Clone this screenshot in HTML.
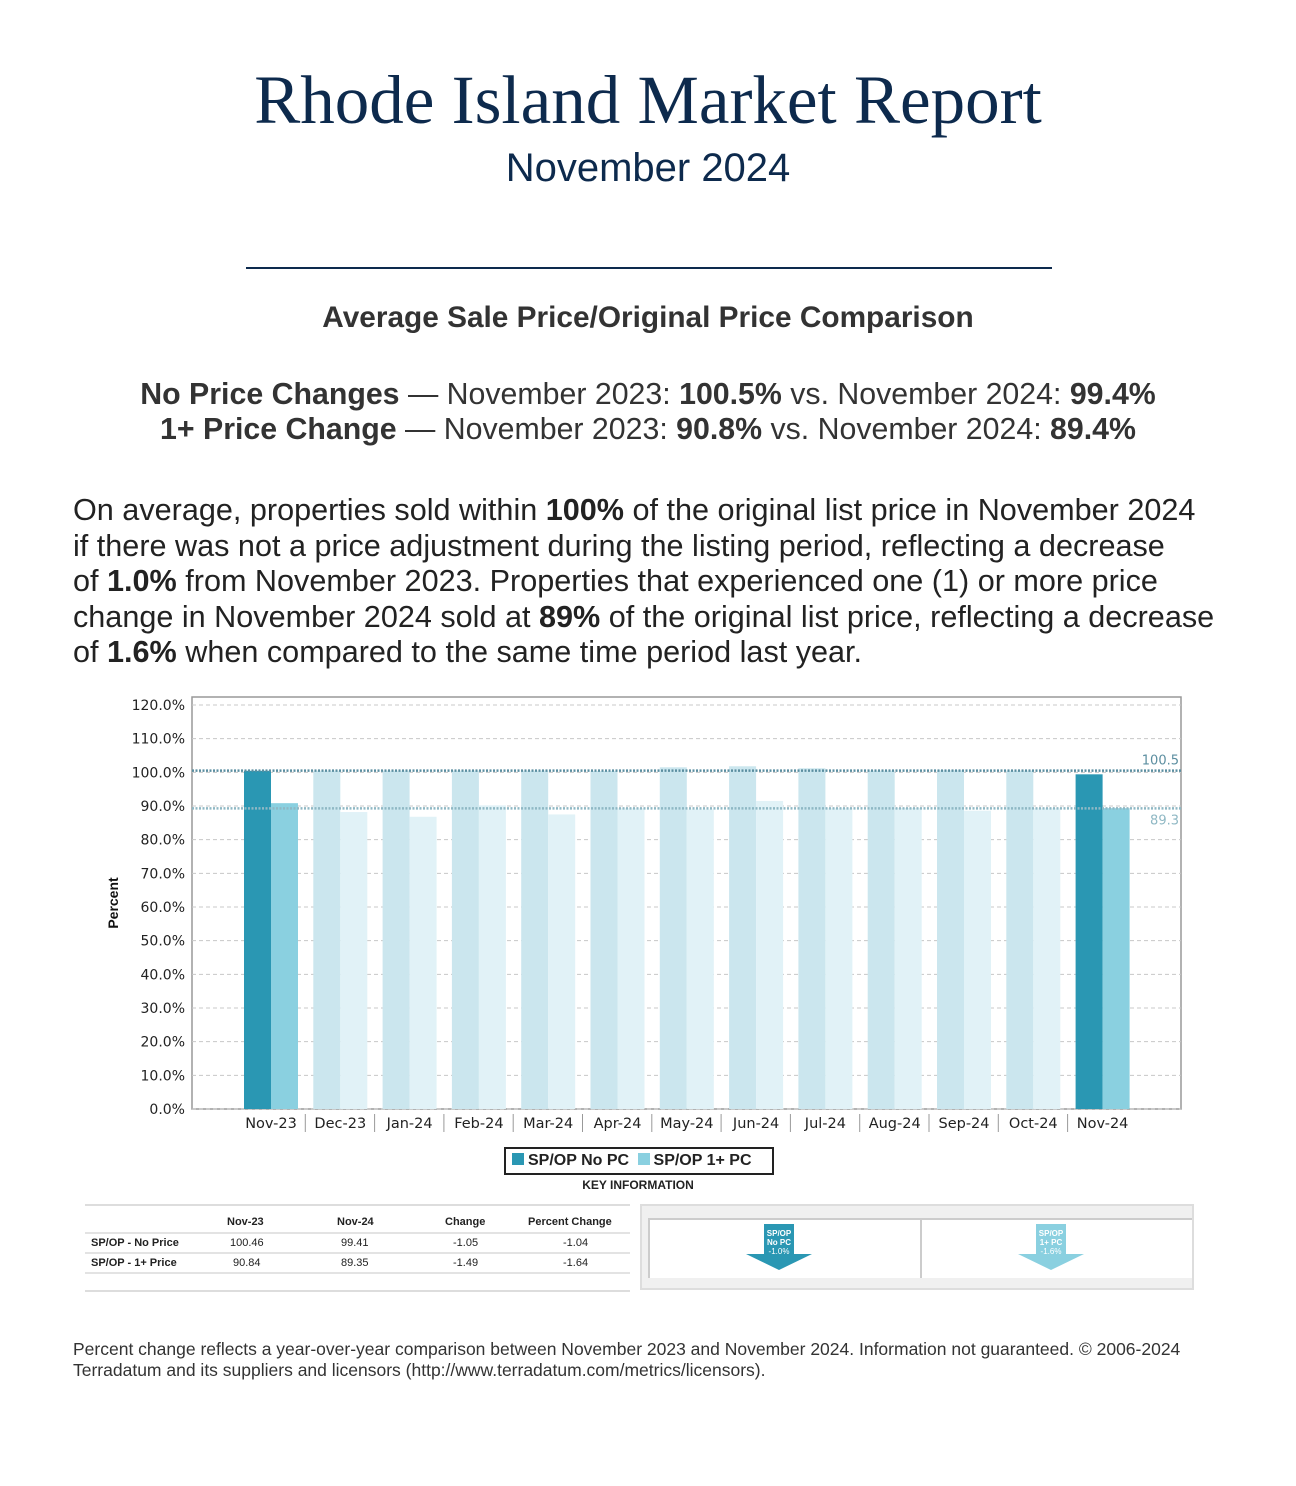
<!DOCTYPE html>
<html><head><meta charset="utf-8">
<style>
body{margin:0;background:#fff;width:1296px;height:1486px;position:relative;overflow:hidden;font-family:"Liberation Sans",sans-serif;color:#222}
.abs{position:absolute}
.c{left:0;width:1296px;text-align:center;white-space:nowrap}
</style></head><body>
<div class="abs c" style="top:61px;font-family:'Liberation Serif',serif;font-size:69px;color:#0d2a4d;">Rhode Island Market Report</div>
<div class="abs c" style="top:146px;font-size:40px;color:#0d2a4d;">November 2024</div>
<div class="abs" style="left:246px;top:267px;width:806px;height:2px;background:#0d2a4d"></div>
<div class="abs c" style="top:301px;font-size:29.8px;font-weight:bold;color:#333">Average Sale Price/Original Price Comparison</div>
<div class="abs c" style="top:378px;font-size:30.3px;color:#333"><b>No Price Changes</b> — November 2023: <b>100.5%</b> vs. November 2024: <b>99.4%</b></div>
<div class="abs c" style="top:413px;font-size:30.3px;color:#333"><b>1+ Price Change</b> — November 2023: <b>90.8%</b> vs. November 2024: <b>89.4%</b></div>
<div class="abs" style="left:73px;top:493px;font-size:30.6px;line-height:35.6px;white-space:nowrap;color:#222">On average, properties sold within <b>100%</b> of the original list price in November 2024<br>if there was not a price adjustment during the listing period, reflecting a decrease<br>of <b>1.0%</b> from November 2023. Properties that experienced one (1) or more price<br>change in November 2024 sold at <b>89%</b> of the original list price, reflecting a decrease<br>of <b>1.6%</b> when compared to the same time period last year.</div>

<svg class="abs" style="left:0;top:0" width="1296" height="1486" id="chart">
</svg>

<div class="abs" style="left:504px;top:1147px;width:270px;height:28px;border:2px solid #222;box-sizing:border-box;font-size:16px;font-weight:bold;white-space:nowrap;line-height:24px">
 <span style="display:inline-block;width:12px;height:12px;background:#2a97b3;margin:0 4px 0 6px"></span>SP/OP No PC
 <span style="display:inline-block;width:12px;height:12px;background:#8ad0e0;margin:0 4px 0 4px"></span>SP/OP 1+ PC
</div>
<div class="abs" style="left:540px;top:1178px;width:196px;text-align:center;font-size:12px;font-weight:bold">KEY INFORMATION</div>

<div class="abs" style="left:85px;top:1204px;width:545px;height:84px;border-top:2px solid #ddd;border-bottom:2px solid #ddd;font-size:11px">
 <div class="abs" style="top:10px;left:0;width:545px;font-weight:bold">
  <span class="abs" style="left:142px">Nov-23</span><span class="abs" style="left:252px">Nov-24</span><span class="abs" style="left:360px">Change</span><span class="abs" style="left:443px">Percent Change</span>
 </div>
 <div class="abs" style="top:26px;left:0;width:545px;border-top:2px solid #e3e3e3;height:18px">
  <span class="abs" style="left:6px;top:3px;font-weight:bold">SP/OP - No Price</span><span class="abs" style="left:145px;top:3px">100.46</span><span class="abs" style="left:256px;top:3px">99.41</span><span class="abs" style="left:368px;top:3px">-1.05</span><span class="abs" style="left:478px;top:3px">-1.04</span>
 </div>
 <div class="abs" style="top:46px;left:0;width:545px;border-top:2px solid #e3e3e3;border-bottom:2px solid #e3e3e3;height:18px">
  <span class="abs" style="left:6px;top:3px;font-weight:bold">SP/OP - 1+ Price</span><span class="abs" style="left:148px;top:3px">90.84</span><span class="abs" style="left:256px;top:3px">89.35</span><span class="abs" style="left:368px;top:3px">-1.49</span><span class="abs" style="left:478px;top:3px">-1.64</span>
 </div>
</div>

<div class="abs" style="left:640px;top:1204px;width:554px;height:86px;background:#f0f0f0;border:2px solid #ddd;box-sizing:border-box">
 <div class="abs" style="left:6px;top:12px;width:270px;height:58px;background:#fff;border-top:2px solid #ccc;border-left:2px solid #ccc"></div>
 <div class="abs" style="left:278px;top:12px;width:270px;height:58px;background:#fff;border-top:2px solid #ccc;border-left:2px solid #ccc"></div>
 <svg class="abs" style="left:104px;top:18px" width="72" height="46"><polygon points="18,0 48,0 48,30 66,30 33,46 0,30 18,30" fill="#2a97b3"/><text x="33" y="12" font-size="8" fill="#fff" text-anchor="middle" font-weight="bold">SP/OP</text><text x="33" y="21" font-size="8" fill="#fff" text-anchor="middle" font-weight="bold">No PC</text><text x="33" y="30" font-size="8" fill="#fff" text-anchor="middle">-1.0%</text></svg>
 <svg class="abs" style="left:376px;top:18px" width="72" height="46"><polygon points="18,0 48,0 48,30 66,30 33,46 0,30 18,30" fill="#8ad0e0"/><text x="33" y="12" font-size="8" fill="#fff" text-anchor="middle" font-weight="bold">SP/OP</text><text x="33" y="21" font-size="8" fill="#fff" text-anchor="middle" font-weight="bold">1+ PC</text><text x="33" y="30" font-size="8" fill="#fff" text-anchor="middle">-1.6%</text></svg>
</div>

<div class="abs" style="left:73px;top:1339px;font-size:17.5px;line-height:21px;color:#333;white-space:nowrap">Percent change reflects a year-over-year comparison between November 2023 and November 2024. Information not guaranteed. © 2006-2024<br>Terradatum and its suppliers and licensors (http://www.terradatum.com/metrics/licensors).</div>

<script>
const categories=["Nov-23","Dec-23","Jan-24","Feb-24","Mar-24","Apr-24","May-24","Jun-24","Jul-24","Aug-24","Sep-24","Oct-24","Nov-24"];
const noPC=[100.46,100.5,100.5,100.5,100.5,100.4,101.5,101.8,101.2,100.5,100.6,100.5,99.41];
const onePC=[90.84,88.2,86.8,90.2,87.5,89.3,89.0,91.5,89.3,89.4,88.6,89.3,89.35];
const yTicks=[0,10,20,30,40,50,60,70,80,90,100,110,120];
const avgNo=100.5, avgOne=89.3;

const NS="http://www.w3.org/2000/svg";
const svg=document.getElementById('chart');
const X0=192,X1=1181,Y0=1109,YT=697;
const y=v=>Y0-v*(404/120);
const cx=i=>271+i*69.3;
function el(t,a,parent){const e=document.createElementNS(NS,t);for(const k in a)e.setAttribute(k,a[k]);(parent||svg).appendChild(e);return e;}

const frame=el('rect',{x:X0,y:YT,width:X1-X0,height:Y0-YT,fill:'#fff',stroke:'#999','stroke-width':1.5});


yTicks.forEach(t=>{
  const g=el('line',{x1:X0,x2:X1,y1:y(t),y2:y(t),stroke:'#c8c8c8','stroke-dasharray':'4,3'});
  
  
  const tx=el('text',{x:185,y:y(t)+5,'text-anchor':'end','font-size':14,fill:'#222','font-family':'DejaVu Sans, sans-serif'});
  tx.textContent=t.toFixed(1)+'%';
  
  
});
categories.forEach((c,i)=>{
  const hi=(i===0||i===categories.length-1);
  const b1=el('rect',{x:cx(i)-27,y:y(noPC[i]),width:27,height:Y0-y(noPC[i]),fill:hi?'#2a97b3':'#cbe6ee'});
  
  
  const b2=el('rect',{x:cx(i),y:y(onePC[i]),width:27,height:Y0-y(onePC[i]),fill:hi?'#8ad0e0':'#e1f2f7'});
  
  
  const tx=el('text',{x:cx(i),y:1128,'text-anchor':'middle','font-size':14.5,fill:'#222','font-family':'DejaVu Sans, sans-serif'});
  tx.textContent=c;
  
  
  if(i>0){const s=el('line',{x1:cx(i)-35,x2:cx(i)-35,y1:1114,y2:1132,stroke:'#999'});
  
  }
});
[[avgNo,'#5b8ea0',-6],[avgOne,'#8fb8c4',16]].forEach(([v,col,dy])=>{
  const l=el('line',{x1:X0,x2:X1,y1:y(v),y2:y(v),stroke:col,'stroke-width':2.5,'stroke-dasharray':'2,1.5'});
  
  
  const t=el('text',{x:1179,y:y(v)+dy,'text-anchor':'end','font-size':13,fill:col,'font-family':'DejaVu Sans, sans-serif'});
  t.textContent=v.toFixed(1);
  
  
});
const yt=el('text',{x:0,y:0,transform:'translate(118,903) rotate(-90)','text-anchor':'middle','font-size':14,'font-weight':'bold',fill:'#111'});
yt.textContent='Percent';


</script>
</body></html>
